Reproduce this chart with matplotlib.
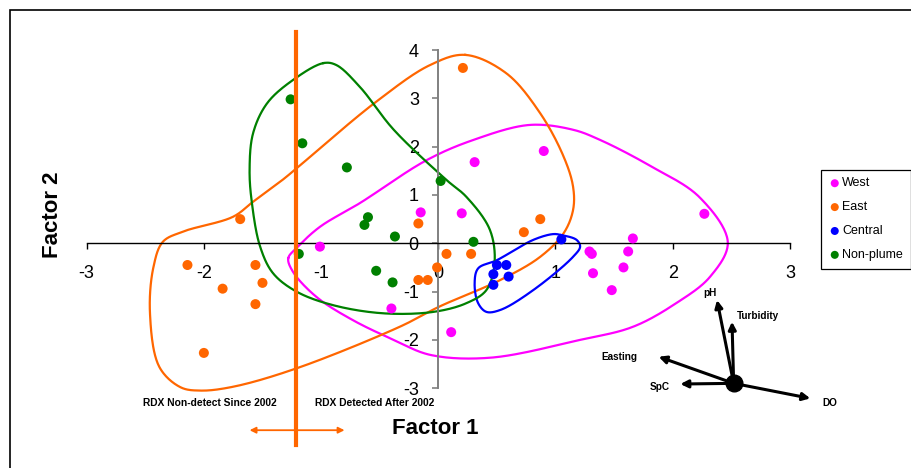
"""
Factor 1 / Factor 2 score plot with group envelopes and a loading biplot inset.
"""

import matplotlib

matplotlib.use("Agg")
import matplotlib.pyplot as plt
import matplotlib.patches as mpatches
import numpy as np

plt.rcParams["font.family"] = ["Liberation Sans", "DejaVu Sans"]

# ── Data ──────────────────────────────────────────────────────────────────────
groups = ["West", "East", "Central", "Non-plume"]
colors = ["#FF00FF", "#FF6600", "#0000FF", "#008000"]

west_x = [0.31, 0.90, -0.15, 0.20, -1.01, -0.40, 0.11, 1.29, 1.31, 1.32, 1.48, 1.58, 1.62, 1.66, 2.27]
west_y = [1.68, 1.91, 0.64, 0.62, -0.07, -1.35, -1.84, -0.17, -0.22, -0.62, -0.97, -0.50, -0.17, 0.10, 0.61]

east_x = [0.21, -1.69, -2.14, -1.84, -1.56, -1.50, -1.56, -2.00, -0.17, 0.07, -0.01, -0.17, -0.09, 0.28, 0.73, 0.87]
east_y = [3.63, 0.50, -0.45, -0.94, -0.45, -0.82, -1.26, -2.27, 0.41, -0.22, -0.50, -0.76, -0.76, -0.22, 0.23, 0.50]

central_x = [1.05, 0.50, 0.58, 0.47, 0.60, 0.47]
central_y = [0.08, -0.45, -0.45, -0.64, -0.69, -0.86]

nonplume_x = [-1.26, -1.16, -0.78, 0.02, -0.60, -0.63, -0.37, -1.19, -0.53, -0.39, 0.30]
nonplume_y = [2.98, 2.07, 1.57, 1.29, 0.54, 0.38, 0.14, -0.22, -0.57, -0.81, 0.03]

# group envelopes (outline vertices, smoothed when drawn)
west_hull_x = [-1.28, -1.21, -1.01, -0.67, -0.10, 0.30, 0.78, 1.15, 1.38, 1.81, 2.23, 2.47, 2.32, 2.03, 1.66, 1.21, 0.44, -0.07, -0.38, -0.73, -1.04, -1.24]
west_hull_y = [-0.31, -0.10, 0.34, 0.83, 1.72, 2.14, 2.45, 2.35, 2.14, 1.60, 0.95, 0.02, -0.69, -1.24, -1.73, -2.00, -2.37, -2.31, -2.00, -1.59, -1.11, -0.59]

east_hull_x = [0.23, 0.58, 0.87, 1.07, 1.15, 1.15, 1.07, 0.87, 0.53, 0.01, -0.33, -1.21, -1.75, -2.03, -2.20, -2.38, -2.46, -2.43, -2.35, -2.18, -1.75, -1.58, -1.33, -1.21, -0.53, -0.07]
east_hull_y = [3.90, 3.52, 2.69, 1.79, 1.17, 0.69, 0.21, -0.28, -0.76, -1.31, -1.73, -2.59, -2.97, -3.05, -2.98, -2.56, -1.44, -0.49, 0.03, 0.24, 0.55, 0.86, 1.31, 1.55, 2.93, 3.69]

central_hull_x = [1.05, 1.18, 1.21, 1.15, 0.81, 0.53, 0.41, 0.34, 0.31, 0.34, 0.50, 0.81, 0.98]
central_hull_y = [0.17, 0.07, -0.07, -0.28, -0.97, -1.38, -1.42, -1.24, -0.83, -0.52, -0.35, 0.07, 0.19]

nonplume_hull_x = [-0.98, -0.87, -0.67, -0.38, 0.07, 0.24, 0.44, 0.48, 0.41, 0.24, -0.04, -0.47, -0.90, -1.21, -1.41, -1.52, -1.59, -1.61, -1.58, -1.46, -1.24]
nonplume_hull_y = [3.73, 3.69, 3.24, 2.35, 1.31, 0.96, 0.28, -0.41, -0.97, -1.24, -1.42, -1.45, -1.28, -1.00, -0.62, -0.07, 0.83, 1.52, 2.28, 2.90, 3.38]

# RDX detection boundary on Factor 1
rdx_boundary = -1.21

# variable loadings (biplot inset)
loading_names = ["pH", "Turbidity", "Easting", "SpC", "DO"]
loading_dx = [-0.142, -0.014, -0.640, -0.455, 0.654]
loading_dy = [1.725, 1.275, 0.551, -0.014, -0.311]
loading_origin = (2.52, -2.90)

xticks = [-3, -2, -1, 0, 1, 2, 3]
yticks = [-3, -2, -1, 0, 1, 2, 3, 4]

# ── Helpers ───────────────────────────────────────────────────────────────────
ASPECT = 48.3 / 117.2  # y-unit vs x-unit on screen


def smooth_closed(x, y, steps=24):
    """Closed centripetal Catmull-Rom curve through the outline vertices."""
    pts = np.column_stack([x, np.asarray(y) * ASPECT])
    n = len(pts)
    out = []
    for i in range(n):
        p0, p1, p2, p3 = pts[i - 1], pts[i], pts[(i + 1) % n], pts[(i + 2) % n]
        t0 = 0.0
        t1 = t0 + np.linalg.norm(p1 - p0) ** 0.5
        t2 = t1 + np.linalg.norm(p2 - p1) ** 0.5
        t3 = t2 + np.linalg.norm(p3 - p2) ** 0.5
        t = np.linspace(t1, t2, steps, endpoint=False)[:, None]
        a1 = (t1 - t) / (t1 - t0) * p0 + (t - t0) / (t1 - t0) * p1
        a2 = (t2 - t) / (t2 - t1) * p1 + (t - t1) / (t2 - t1) * p2
        a3 = (t3 - t) / (t3 - t2) * p2 + (t - t2) / (t3 - t2) * p3
        b1 = (t2 - t) / (t2 - t0) * a1 + (t - t0) / (t2 - t0) * a2
        b2 = (t3 - t) / (t3 - t1) * a2 + (t - t1) / (t3 - t1) * a3
        out.append((t2 - t) / (t2 - t1) * b1 + (t - t1) / (t2 - t1) * b2)
    out = np.vstack(out + [pts[:1]])
    return out[:, 0], out[:, 1] / ASPECT


# ── Figure ────────────────────────────────────────────────────────────────────
W, H = 911, 468
fig = plt.figure(figsize=(W / 100, H / 100), dpi=100)
ax = fig.add_axes([51.5 / W, 1 - 407.5 / H, 785.3 / W, 367.1 / H])
ax.set_xlim(-3.3, 3.4)
ax.set_ylim(-3.4, 4.2)
ax.patch.set_visible(False)

# axes crossing at zero
for s in ["top", "right"]:
    ax.spines[s].set_visible(False)
ax.spines["bottom"].set_position(("data", 0))
ax.spines["left"].set_position(("data", 0))
ax.spines["bottom"].set_bounds(-3, 3)
ax.spines["left"].set_bounds(-3, 4)
ax.spines["bottom"].set_linewidth(1.0)
ax.spines["left"].set_linewidth(1.4)
ax.spines["left"].set_color("#808080")

ax.set_xticks(xticks)
ax.set_yticks(yticks)
ax.set_xticklabels([str(t) for t in xticks])
ax.set_yticklabels([str(t) for t in yticks])
ax.tick_params(axis="x", direction="out", length=4, width=1, pad=12, labelsize=13, color="black")
ax.tick_params(axis="y", direction="out", length=4, width=1.2, pad=10, labelsize=13, color="#808080")

# envelopes
hulls = [
    (west_hull_x, west_hull_y),
    (east_hull_x, east_hull_y),
    (central_hull_x, central_hull_y),
    (nonplume_hull_x, nonplume_hull_y),
]
for (hx, hy), c in zip(hulls, colors):
    sx, sy = smooth_closed(hx, hy)
    ax.plot(sx, sy, color=c, lw=1.6, zorder=2, clip_on=False)

# scores
series = [
    (west_x, west_y),
    (east_x, east_y),
    (central_x, central_y),
    (nonplume_x, nonplume_y),
]
for (sx, sy), c, g in zip(series, colors, groups):
    ax.scatter(sx, sy, s=52, color=c, edgecolors="none", zorder=3, label=g, clip_on=False)

# RDX boundary line and double arrow
ax.plot([rdx_boundary, rdx_boundary], [-4.18, 4.37], color="#FF6600", lw=3, zorder=4, clip_on=False)
ax.annotate(
    "", xy=(-0.80, -3.87), xytext=(-1.61, -3.87),
    arrowprops=dict(arrowstyle="<|-|>", color="#FF6600", lw=1.3, mutation_scale=9, shrinkA=0, shrinkB=0),
    annotation_clip=False,
)
ax.text(-1.95, -3.31, "RDX Non-detect Since 2002", ha="center", va="center", fontsize=7.4, fontweight="bold")
ax.text(-0.54, -3.31, "RDX Detected After 2002", ha="center", va="center", fontsize=7.4, fontweight="bold")

# loading biplot
ox, oy = loading_origin
label_offsets = {"pH": (-5, 5), "Turbidity": (19, 4), "Easting": (-28, 0), "SpC": (-15, -2), "DO": (14, -3)}
for name, dx, dy in zip(loading_names, loading_dx, loading_dy):
    tip = (ox + dx, oy + dy)
    ax.annotate(
        "", xy=tip, xytext=(ox, oy),
        arrowprops=dict(arrowstyle="-|>", color="black", lw=2.2, mutation_scale=11, shrinkA=0, shrinkB=0),
        annotation_clip=False, zorder=5,
    )
    ax.annotate(
        name, xy=tip, xytext=label_offsets[name], textcoords="offset points",
        ha="center", va="center", fontsize=7.2, fontweight="bold", annotation_clip=False,
    )
ax.plot([ox], [oy], "o", color="black", markersize=12, zorder=6, clip_on=False)

# axis titles
fig.text(435 / W, 1 - 429 / H, "Factor 1", ha="center", va="center", fontsize=16, fontweight="bold")
fig.text(52 / W, 1 - 215 / H, "Factor 2", ha="center", va="center", rotation=90, fontsize=16, fontweight="bold")

# legend
leg = fig.legend(
    loc="upper left", bbox_to_anchor=(821 / W, 1 - 170 / H), fontsize=9,
    frameon=True, fancybox=False, edgecolor="black", framealpha=1,
    handletextpad=0.1, labelspacing=0.95, borderpad=0.6, handlelength=1.0,
    markerscale=0.8, borderaxespad=0,
)
leg.get_frame().set_linewidth(0.9)

# chart border
fig.patches.append(
    mpatches.Rectangle((10 / W, -0.1), 1.2, 1.1 - 10 / H, transform=fig.transFigure,
                       fill=False, edgecolor="black", lw=1.2)
)

fig.savefig("out.png", dpi=100)
